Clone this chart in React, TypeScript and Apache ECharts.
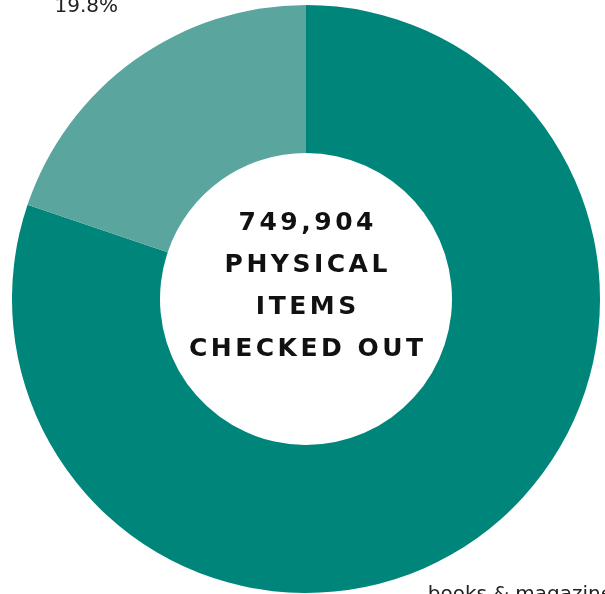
import React, { useEffect, useRef } from "react";
import * as echarts from "echarts";

const categories = ["books & magazines", "other"];
const shares = [80.2, 19.8];
const colors = ["#00857a", "#5aa69e"];
const centerLines = ["749,904", "PHYSICAL", "ITEMS", "CHECKED OUT"];

export default function App() {
  const ref = useRef<HTMLDivElement>(null);
  useEffect(() => {
    document.body.style.margin = "0";
    const chart = echarts.init(ref.current!, null, { renderer: "svg" });
    const data = categories.map((name, i) => ({
      name,
      value: shares[i],
      itemStyle: { color: colors[i] },
    }));
    chart.setOption({
      animation: false,
      series: [
        {
          type: "pie",
          center: [306, 299],
          radius: [146, 294],
          startAngle: 90,
          clockwise: true,
          silent: true,
          label: { show: false },
          labelLine: { show: false },
          data,
        },
        {
          type: "pie",
          center: [306, 299],
          radius: [354, 394],
          startAngle: 90,
          clockwise: true,
          silent: true,
          itemStyle: { color: "rgba(0,0,0,0)" },
          label: {
            show: true,
            position: "inside",
            formatter: (p: any) => `${p.name}\n${p.value}%`,
            fontFamily: "DejaVu Sans",
            fontSize: 20,
            lineHeight: 24,
            color: "#222",
          },
          labelLine: { show: false },
          data: categories.map((name, i) => ({ name, value: shares[i], itemStyle: { color: "rgba(0,0,0,0)" } })),
        },
      ],
      graphic: [
        {
          type: "text",
          x: 307.75,
          y: 284,
          style: {
            text: centerLines.join("\n"),
            fontFamily: "DejaVu Sans",
            fontWeight: "bold",
            fontSize: 25,
            lineHeight: 42,
            fill: "#111",
            textAlign: "center",
            textVerticalAlign: "middle",
          },
        },
      ],
    });
    return () => chart.dispose();
  }, []);
  return (
    <>
      <style>{`svg text[style*="bold"]{letter-spacing:3.5px;}`}</style>
      <div ref={ref} style={{ position: "fixed", left: 0, top: 0, width: 605, height: 594 }} />
    </>
  );
}
